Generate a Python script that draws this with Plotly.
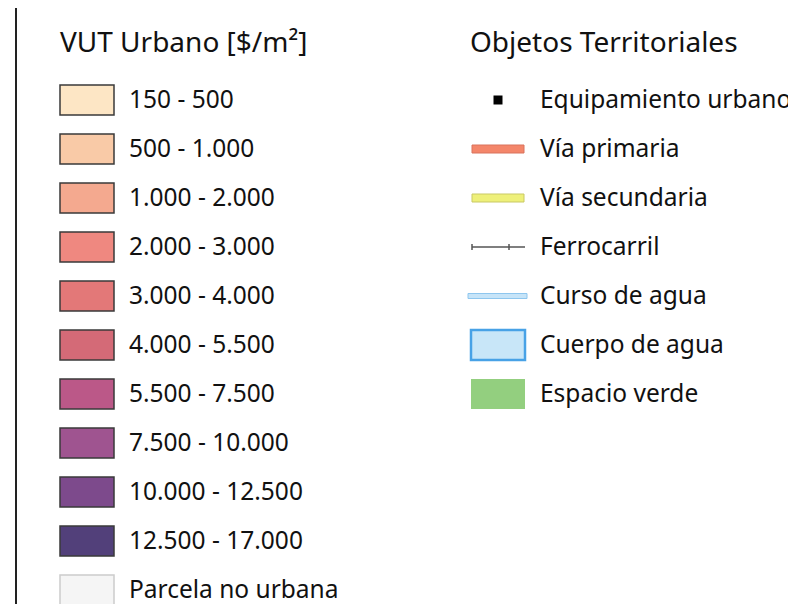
import plotly.graph_objects as go

# ---- data ----
left_title = "VUT Urbano [$/m²]"
left_labels = ["150 - 500", "500 - 1.000", "1.000 - 2.000", "2.000 - 3.000", "3.000 - 4.000",
               "4.000 - 5.500", "5.500 - 7.500", "7.500 - 10.000", "10.000 - 12.500",
               "12.500 - 17.000", "Parcela no urbana"]
left_colors = ["#fde6c5", "#f9caa7", "#f4a98f", "#ef8880", "#e37878", "#d46a77",
               "#bb5888", "#9f5490", "#7d4a8c", "#52407a", "#f5f5f5"]

right_title = "Objetos Territoriales"
right_labels = ["Equipamiento urbano", "Vía primaria", "Vía secundaria", "Ferrocarril",
                "Curso de agua", "Cuerpo de agua", "Espacio verde"]
right_kinds = ["point", "line", "line", "rail", "line", "box", "box"]
right_fill = ["#000000", "#f4866a", "#eef07a", "#555555", "#c6e4f8", "#c8e6f8", "#93cf7f"]
right_edge = ["#000000", "#d9735c", "#c9c964", "#555555", "#8ec6ee", "#48a2e6", "#93cf7f"]

# ---- layout constants ----
W, H = 796, 604
OFFX, OFFY = 8, 5  # page body margin compensation
FONT = "Noto Sans"
FS = 24.5
FT = 28
row0, step = 97, 49
sw_w, sw_h = 54, 30
lx_sw, lx_txt = 60, 129
rx_sw, rx_txt = 471, 540

fig = go.Figure()
shapes = []

def ypos(i):
    return row0 + step * i

# left column swatches
for i, c in enumerate(left_colors):
    y = ypos(i)
    edge = "#cccccc" if i == len(left_colors) - 1 else "#3a3a3a"
    shapes.append(dict(type="rect", xref="x", yref="y", x0=lx_sw, x1=lx_sw + sw_w,
                       y0=y - sw_h / 2, y1=y + sw_h / 2, fillcolor=c,
                       line=dict(color=edge, width=1.5)))

fig.add_trace(go.Scatter(x=[lx_txt] * len(left_labels), y=[ypos(i) + 2 for i in range(len(left_labels))],
                         text=left_labels, mode="text", textposition="middle right",
                         textfont=dict(family=FONT, size=FS, color="#111111"),
                         hoverinfo="skip", showlegend=False, cliponaxis=False))

# right column symbols
for i, (k, f, e) in enumerate(zip(right_kinds, right_fill, right_edge)):
    y = ypos(i)
    if k == "point":
        shapes.append(dict(type="rect", xref="x", yref="y", x0=rx_sw + 22.5, x1=rx_sw + 31.5,
                           y0=y - 4.5, y1=y + 4.5, fillcolor=f, line=dict(width=0)))
    elif k == "line":
        th = 5 if i == 4 else 8
        x0 = rx_sw - 3 if i == 4 else rx_sw + 1
        x1 = rx_sw + sw_w + 2 if i == 4 else rx_sw + sw_w - 1
        shapes.append(dict(type="rect", xref="x", yref="y", x0=x0, x1=x1,
                           y0=y - th / 2, y1=y + th / 2, fillcolor=f,
                           line=dict(color=e, width=1)))
    elif k == "rail":
        shapes.append(dict(type="line", xref="x", yref="y", x0=rx_sw + 1, x1=rx_sw + sw_w,
                           y0=y, y1=y, line=dict(color=f, width=1.5)))
        for tx in (rx_sw + 1, rx_sw + 38):
            shapes.append(dict(type="line", xref="x", yref="y", x0=tx, x1=tx,
                               y0=y - 3, y1=y + 3, line=dict(color=f, width=1.5)))
    else:
        shapes.append(dict(type="rect", xref="x", yref="y", x0=rx_sw, x1=rx_sw + sw_w,
                           y0=y - sw_h / 2, y1=y + sw_h / 2, fillcolor=f,
                           line=dict(color=e, width=2.5 if i == 5 else 0)))

fig.add_trace(go.Scatter(x=[rx_txt] * len(right_labels), y=[ypos(i) + 2 for i in range(len(right_labels))],
                         text=right_labels, mode="text", textposition="middle right",
                         textfont=dict(family=FONT, size=FS, color="#111111"),
                         hoverinfo="skip", showlegend=False, cliponaxis=False))

# titles
fig.add_trace(go.Scatter(x=[60, 470], y=[42, 42], text=[left_title, right_title],
                         mode="text", textposition="middle right",
                         textfont=dict(family=FONT, size=FT, color="#111111"),
                         hoverinfo="skip", showlegend=False, cliponaxis=False))

# left frame line
shapes.append(dict(type="line", xref="x", yref="y", x0=16, x1=16, y0=-10, y1=H + 20,
                   line=dict(color="#222222", width=2)))

fig.update_layout(
    width=W, height=H, margin=dict(l=0, r=0, t=0, b=0),
    paper_bgcolor="white", plot_bgcolor="white", shapes=shapes,
    xaxis=dict(range=[OFFX, W + OFFX], visible=False, fixedrange=True),
    yaxis=dict(range=[H + OFFY, OFFY], visible=False, fixedrange=True),
    showlegend=False,
)
fig.write_html("out.html")
